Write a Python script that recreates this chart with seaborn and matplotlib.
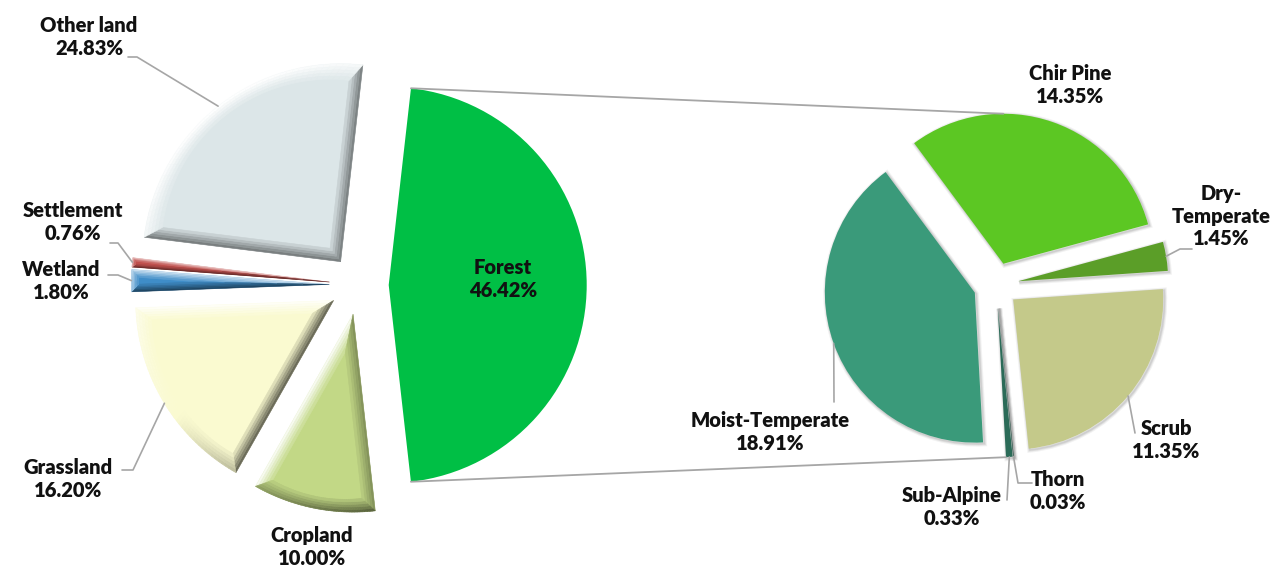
import numpy as np
import matplotlib
matplotlib.use("Agg")
import matplotlib.pyplot as plt
import matplotlib.colors as mcolors
from matplotlib.patches import PathPatch, Polygon
from matplotlib.transforms import Affine2D
import seaborn as sns

# ---------------- data ----------------
land_labels = ["Forest", "Other land", "Settlement", "Wetland", "Grassland", "Cropland"]
land_values = [46.42, 24.83, 0.76, 1.80, 16.20, 10.00]
land_colors = ["#00BF45", "#DCE6E8", "#C0504D", "#3F8DC8", "#FAFAD0", "#C2D886"]

forest_labels = ["Chir Pine", "Dry-Temperate", "Scrub", "Thorn", "Sub-Alpine", "Moist-Temperate"]
forest_values = [14.35, 1.45, 11.35, 0.03, 0.33, 18.91]
forest_colors = ["#5CC723", "#5B9E28", "#C4C98A", "#174A3C", "#2B6B58", "#3A9A7A"]

# ---------------- layout (pixel coordinates) ----------------
W, H = 1277, 571
sns.set_theme(style="white")
plt.rcParams['font.family'] = ['Lato', 'DejaVu Sans']

fig = plt.figure(figsize=(W / 100, H / 100), dpi=100)
ax = fig.add_axes([0, 0, 1, 1])


def P(x, y):
    return (x, H - y)


LEFT_C, LEFT_R = P(359, 285), 198
RIGHT_C, RIGHT_R = P(996, 285), 150
EXPLODE = 0.15

left_start = -land_values[0] / 100 * 360 / 2
wl, _ = ax.pie(land_values, colors=land_colors, center=LEFT_C, radius=LEFT_R,
               startangle=left_start, counterclock=True,
               explode=[EXPLODE * LEFT_R] * len(land_values),
               wedgeprops=dict(linewidth=0), frame=True)

wr, _ = ax.pie(forest_values, colors=forest_colors, center=RIGHT_C, radius=RIGHT_R,
               startangle=126.5, counterclock=False,
               explode=[EXPLODE * RIGHT_R] * len(forest_values),
               wedgeprops=dict(linewidth=0), frame=True)

ax.set_xlim(0, W)
ax.set_ylim(0, H)
ax.axis("off")


def mix(c, other, t):
    a = np.array(mcolors.to_rgb(c))
    b = np.array(mcolors.to_rgb(other))
    t = float(np.clip(t, 0, 1))
    return tuple(a * (1 - t) + b * t)


LIGHT = np.array([-0.6, 0.8])


def shade(face, n, k):
    s = float(np.dot(n, LIGHT))
    if s >= 0:
        return mix(face, "white", 0.95 * s * k)
    return mix(face, "black", 0.62 * (-s) * k)


def bevel(w, face, width=12, nb=5, nseg=48):
    c = np.array(w.center, dtype=float)
    r = w.r
    t1, t2 = np.deg2rad(w.theta1), np.deg2rad(w.theta2)
    half = (t2 - t1) / 2
    mid = (t1 + t2) / 2
    s = np.sin(half)
    rho = r * s / (1 + s)
    dist = r / (1 + s)
    inc = c + dist * np.array([np.cos(mid), np.sin(mid)])
    width = min(width, 0.7 * rho)
    ts = np.linspace(t1, t2, nseg + 1)
    arc = c + r * np.column_stack([np.cos(ts), np.sin(ts)])

    def ring(d):
        f = 1 - d / rho
        return inc + f * (c - inc), inc + f * (arc - inc)

    z = w.get_zorder() + 0.2
    depths = np.linspace(0, width, nb + 1)
    n1 = np.array([np.cos(t1 - np.pi / 2), np.sin(t1 - np.pi / 2)])
    n2 = np.array([np.cos(t2 + np.pi / 2), np.sin(t2 + np.pi / 2)])
    for i in range(nb):
        k = 1 - i / nb
        ta, aa = ring(depths[i])
        tb, ab = ring(depths[i + 1])
        quads = [([ta, aa[0], ab[0], tb], n1), ([aa[-1], ta, tb, ab[-1]], n2)]
        for j in range(nseg):
            tm = (ts[j] + ts[j + 1]) / 2
            quads.append(([aa[j], aa[j + 1], ab[j + 1], ab[j]],
                          np.array([np.cos(tm), np.sin(tm)])))
        for pts, n in quads:
            col = shade(face, n, k)
            ax.add_patch(Polygon(np.array(pts), closed=True, facecolor=col,
                                 edgecolor=col, lw=0.4, zorder=z))


# bevel look for the non-forest slices of the left pie
for w, col in zip(wl[1:], land_colors[1:]):
    bevel(w, col)

# soft shadow under the right-pie slices
for w in wr:
    for k, a in ((4, 0.05), (2.5, 0.07), (1.2, 0.08)):
        sh = PathPatch(Affine2D().translate(1.2, -1.2).transform_path(w.get_path()),
                       facecolor="none", edgecolor=(0, 0, 0, a), lw=k, zorder=w.get_zorder() - 0.1)
        ax.add_patch(sh)

# ---------------- connector lines ----------------
fw = wl[0]
fx, fy = fw.center
top_l = (fx + fw.r * np.cos(np.deg2rad(fw.theta2)), fy + fw.r * np.sin(np.deg2rad(fw.theta2)))
bot_l = (fx + fw.r * np.cos(np.deg2rad(fw.theta1)), fy + fw.r * np.sin(np.deg2rad(fw.theta1)))
cw = wr[0]
top_r = (cw.center[0], cw.center[1] + cw.r)
sw = wr[4]
bot_r = (sw.center[0] + sw.r * np.cos(np.deg2rad(sw.theta1)),
         sw.center[1] + sw.r * np.sin(np.deg2rad(sw.theta1)))
line_kw = dict(color="#A6A6A6", lw=1.3, zorder=1)
ax.plot([top_l[0], top_r[0]], [top_l[1], top_r[1]], **line_kw)
ax.plot([bot_l[0], bot_r[0]], [bot_l[1], bot_r[1]], **line_kw)

# ---------------- labels ----------------
label_pos = {
    "Forest": (503, 279), "Other land": (89, 37), "Settlement": (73, 222),
    "Wetland": (61, 281), "Grassland": (68, 479), "Cropland": (312, 547),
    "Chir Pine": (1070, 85), "Dry-Temperate": (1221, 216), "Scrub": (1166, 440),
    "Thorn": (1058, 491), "Sub-Alpine": (952, 507), "Moist-Temperate": (770, 432),
}
leader_pts = {
    "Other land": [(137, 57), (128, 57)],
    "Settlement": [(118, 243), (110, 243)],
    "Wetland": [(118, 275), (108, 275)],
    "Grassland": [(133, 470), (122, 470)],
    "Moist-Temperate": [(834, 402)],
    "Sub-Alpine": [(1007, 500)],
    "Thorn": [(1018, 483), (1032, 483)],
    "Dry-Temperate": [(1180, 249), (1192, 249)],
    "Scrub": [(1135, 433)],
}

text_kw = dict(fontsize=14.5, fontweight="heavy", color="#111111",
               ha="center", va="center", linespacing=1.2, zorder=6)

for wedges, names, vals in ((wl, land_labels, land_values), (wr, forest_labels, forest_values)):
    for w, name, v in zip(wedges, names, vals):
        disp = name.replace("Dry-", "Dry-\n")
        x, y = P(*label_pos[name])
        ax.text(x, y, f"{disp}\n{v:.2f}%", **text_kw)
        if name in leader_pts:
            mid = np.deg2rad((w.theta1 + w.theta2) / 2)
            sx = w.center[0] + w.r * np.cos(mid)
            sy = w.center[1] + w.r * np.sin(mid)
            pts = [(sx, sy)] + [P(*p) for p in leader_pts[name]]
            xs, ys = zip(*pts)
            ax.plot(xs, ys, color="#A6A6A6", lw=1.2, zorder=5)

fig.savefig("out.png", dpi=100)
